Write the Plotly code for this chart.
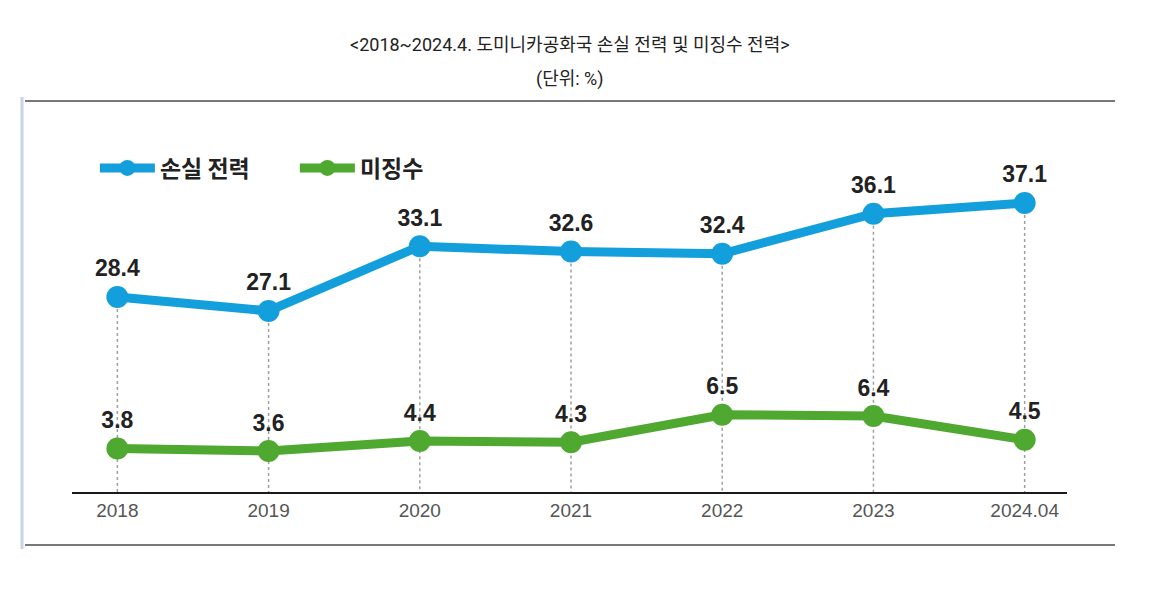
import plotly.graph_objects as go

categories = ["2018", "2019", "2020", "2021", "2022", "2023", "2024.04"]
loss_power = [28.4, 27.1, 33.1, 32.6, 32.4, 36.1, 37.1]
uncollected = [3.8, 3.6, 4.4, 4.3, 6.5, 6.4, 4.5]
series_names = ["손실 전력", "미징수"]

BLUE = "#139fdc"
GREEN = "#4fa82f"
NUM_FONT = "Liberation Sans, Arial, sans-serif"
KR_FONT = "Noto Sans CJK KR, Noto Sans, sans-serif"
TITLE_FONT = "Roboto, Noto Sans CJK KR, sans-serif"

idx = list(range(len(categories)))
blue_range = [10.34, 46.54]
green_range = [0.32, 31.6]

fig = go.Figure()

# dotted guide lines from each loss-power point down to the axis
gx, gy = [], []
for i, v in zip(idx, loss_power):
    gx += [i, i, None]
    gy += [v, blue_range[0], None]
fig.add_trace(go.Scatter(x=gx, y=gy, mode="lines", showlegend=False, hoverinfo="skip",
                         line=dict(color="#a0a0a0", width=1.5, dash="dot"), yaxis="y"))

fig.add_trace(go.Scatter(
    x=idx, y=loss_power, name=series_names[0], mode="lines+markers+text",
    line=dict(color=BLUE, width=9), marker=dict(size=22, color=BLUE),
    text=[f"{v:.1f}" for v in loss_power], textposition="top center",
    textfont=dict(family=NUM_FONT, size=23, color="#222222", weight="bold"),
    yaxis="y"))

fig.add_trace(go.Scatter(
    x=idx, y=uncollected, name=series_names[1], mode="lines+markers+text",
    line=dict(color=GREEN, width=9), marker=dict(size=22, color=GREEN),
    text=[f"{v:.1f}" for v in uncollected], textposition="top center",
    textfont=dict(family=NUM_FONT, size=23, color="#222222", weight="bold"),
    yaxis="y2"))

fig.update_layout(
    width=1155, height=599,
    margin=dict(l=72, r=88, t=101, b=107),
    paper_bgcolor="white", plot_bgcolor="white",
    xaxis=dict(range=[-0.3, 6.28], tickvals=idx, ticktext=categories,
               showgrid=False, zeroline=False, showline=True, linecolor="#1a1a1a",
               linewidth=2, ticks="", ticklabelstandoff=0,
               tickfont=dict(family=NUM_FONT, size=19, color="#555555")),
    yaxis=dict(range=blue_range, visible=False, showgrid=False),
    yaxis2=dict(range=green_range, visible=False, showgrid=False,
                overlaying="y"),
    showlegend=True,
    legend=dict(orientation="h", x=0.023, y=(492 - 168) / 391, xanchor="left", yanchor="middle",
                font=dict(family=KR_FONT, size=23, color="#222222", weight="bold"),
                itemwidth=55, entrywidth=130, bgcolor="rgba(0,0,0,0)"),
    annotations=[
        dict(text="<2018~2024.4. 도미니카공화국 손실 전력 및 미징수 전력>", xref="paper", yref="paper",
             x=(570 - 72) / 995, y=(492 - 45) / 391, yanchor="middle", showarrow=False,
             font=dict(family=TITLE_FONT, size=18, color="#222222")),
        dict(text="(단위: %)", xref="paper", yref="paper",
             x=(570 - 72) / 995, y=(492 - 79) / 391, yanchor="middle", showarrow=False,
             font=dict(family=TITLE_FONT, size=18, color="#222222")),
    ],
    shapes=[
        dict(type="line", xref="paper", yref="paper", x0=(25 - 72) / 995, x1=(1115 - 72) / 995,
             y0=(492 - 101) / 391, y1=(492 - 101) / 391, line=dict(color="#777777", width=2)),
        dict(type="line", xref="paper", yref="paper", x0=(25 - 72) / 995, x1=(1115 - 72) / 995,
             y0=(492 - 545) / 391, y1=(492 - 545) / 391, line=dict(color="#777777", width=2)),
        dict(type="line", xref="paper", yref="paper", x0=(22 - 72) / 995, x1=(22 - 72) / 995,
             y0=(492 - 97) / 391, y1=(492 - 549) / 391, line=dict(color="#c9d2e4", width=3)),
    ],
)

fig.write_html("out.html")
